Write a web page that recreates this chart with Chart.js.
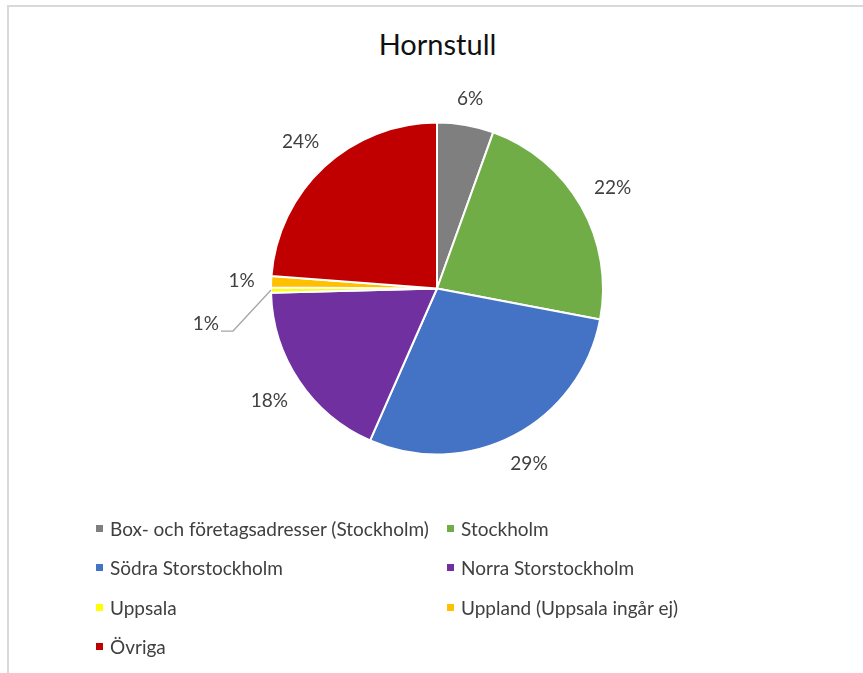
<!DOCTYPE html>
<html>
<head>
<meta charset="utf-8">
<script src="https://cdn.jsdelivr.net/npm/chart.js@4"></script>
<style>
  html, body { margin: 0; padding: 0; background: #fff; overflow: hidden; }
  body { width: 863px; height: 673px; position: relative; font-family: Lato, "Open Sans", sans-serif; }
  #frame { position: absolute; left: 7px; top: 5px; width: 900px; height: 700px; border-left: 2px solid #d9d9d9; border-top: 2px solid #d9d9d9; box-sizing: border-box; }
  #title { position: absolute; left: 0; width: 875px; top: 24px; text-align: center; font-size: 29px; line-height: 40px; color: #111; }
  #c { position: absolute; left: 0; top: 0; }
  #legend { position: absolute; left: 96px; top: 509px; display: grid; grid-template-columns: 351px 300px; grid-auto-rows: 39.3px; font-size: 19px; color: #404040; }
  .li { display: flex; align-items: center; white-space: nowrap; }
  .sw { width: 7px; height: 7px; margin-right: 7px; flex: none; }
</style>
</head>
<body>
<div id="frame"></div>
<div id="title">Hornstull</div>
<canvas id="c" width="863" height="673"></canvas>
<div id="legend"></div>
<script>
const categories = [
  "Box- och företagsadresser (Stockholm)",
  "Stockholm",
  "Södra Storstockholm",
  "Norra Storstockholm",
  "Uppsala",
  "Uppland (Uppsala ingår ej)",
  "Övriga"
];
const shares = [5.5, 22.5, 28.6, 18.0, 0.5, 1.1, 23.8];
const percentLabels = ["6%", "22%", "29%", "18%", "1%", "1%", "24%"];
const colors = ["#7f7f7f", "#70ad47", "#4472c4", "#7030a0", "#ffff00", "#ffc000", "#c00000"];

const labelFont = "19px Lato, 'Open Sans', sans-serif";

const pieLabels = {
  id: 'pieLabels',
  afterDatasetsDraw(chart) {
    const ctx = chart.ctx;
    const meta = chart.getDatasetMeta(0);
    ctx.save();
    ctx.font = labelFont;
    ctx.fillStyle = '#404040';
    ctx.textBaseline = 'middle';
    meta.data.forEach((arc, i) => {
      const p = arc.getProps(['x', 'y', 'startAngle', 'endAngle', 'outerRadius'], true);
      const mid = (p.startAngle + p.endAngle) / 2;
      const cos = Math.cos(mid), sin = Math.sin(mid);
      const txt = percentLabels[i];
      const w = ctx.measureText(txt).width;
      const h = 16;
      if (i === 4) {
        const ex = p.x + cos * p.outerRadius, ey = p.y + sin * p.outerRadius;
        const bx = ex - 38, by = ey + 41;
        const tx = bx - 12;
        ctx.strokeStyle = '#a6a6a6';
        ctx.lineWidth = 1.3;
        ctx.beginPath();
        ctx.moveTo(ex, ey);
        ctx.lineTo(bx, by);
        ctx.lineTo(tx, by);
        ctx.stroke();
        ctx.textAlign = 'right';
        ctx.fillText(txt, tx - 2, by - 7);
        return;
      }
      const gap = 16;
      const d = p.outerRadius + gap + Math.abs(cos) * w / 2 + Math.abs(sin) * h / 2;
      ctx.textAlign = 'center';
      ctx.fillText(txt, p.x + cos * d, p.y + sin * d);
    });
    ctx.restore();
  }
};

const chart = new Chart(document.getElementById('c'), {
  type: 'pie',
  data: {
    labels: categories,
    datasets: [{
      data: shares,
      backgroundColor: colors,
      borderColor: '#ffffff',
      borderWidth: 2
    }]
  },
  options: {
    responsive: false,
    animation: false,
    layout: { padding: { left: 270, right: 259, top: 121, bottom: 217 } },
    plugins: {
      legend: { display: false },
      title: { display: false },
      tooltip: { enabled: false }
    }
  },
  plugins: [pieLabels]
});

const leg = document.getElementById('legend');
chart.data.labels.forEach((lab, i) => {
  const d = document.createElement('div');
  d.className = 'li';
  const s = document.createElement('span');
  s.className = 'sw';
  s.style.background = chart.data.datasets[0].backgroundColor[i];
  const t = document.createElement('span');
  t.textContent = lab;
  d.appendChild(s); d.appendChild(t);
  leg.appendChild(d);
});
</script>
</body>
</html>
